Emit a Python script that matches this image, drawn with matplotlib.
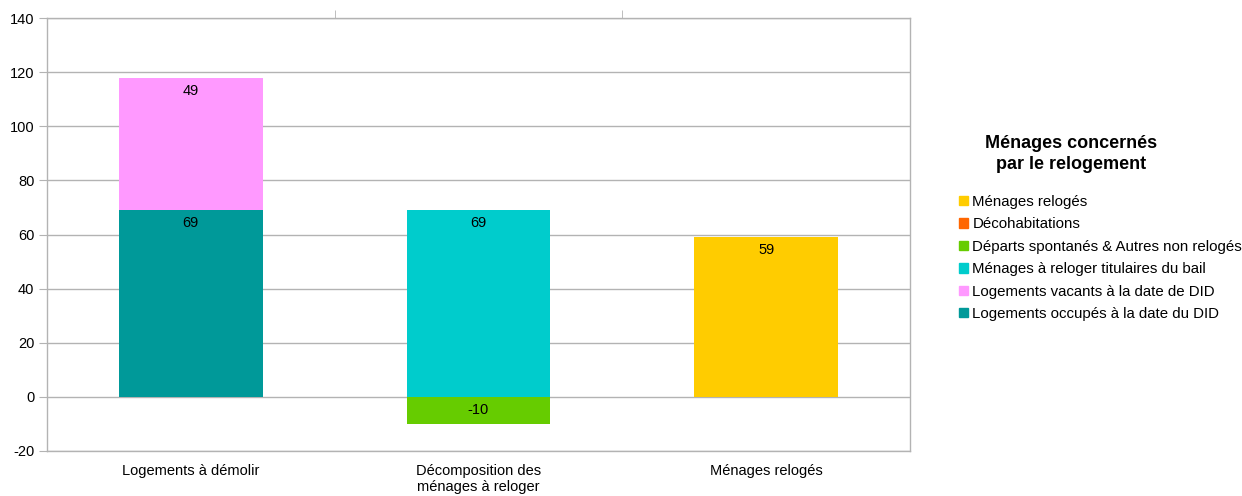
import matplotlib
matplotlib.use("Agg")
import matplotlib.pyplot as plt
from matplotlib.patches import Patch
import numpy as np

plt.rcParams['font.family'] = ['Liberation Sans', 'DejaVu Sans']
plt.rcParams['axes.unicode_minus'] = False

categories = ["Logements à démolir", "Décomposition des\nménages à reloger", "Ménages relogés"]

# series values per category (stacking order bottom -> top)
occupes = [69, 0, 0]
vacants = [49, 0, 0]
titulaires = [0, 69, 0]
departs = [0, -10, 0]
decohab = [0, 0, 0]
reloges = [0, 0, 59]

series_names = ["Logements occupés à la date du DID",
                "Logements vacants à la date de DID",
                "Ménages à reloger titulaires du bail",
                "Départs spontanés & Autres non relogés",
                "Décohabitations",
                "Ménages relogés"]
series_vals = [occupes, vacants, titulaires, departs, decohab, reloges]
series_colors = ["#009999", "#ff99ff", "#00cccc", "#66cc00", "#ff6600", "#ffcc00"]

yticks = [-20, 0, 20, 40, 60, 80, 100, 120, 140]

fig = plt.figure(figsize=(12.42, 4.96), dpi=100)
ax = fig.add_axes([47/1242, 45/496, (910-47)/1242, (451-18)/496])

x = np.arange(len(categories))
pos_base = np.zeros(len(categories))
neg_base = np.zeros(len(categories))
grid_c = "#b3b3b3"

ax.set_ylim(-20, 140)
ax.set_xlim(-0.5, 2.5)
ax.set_yticks(yticks)
ax.yaxis.grid(True, color=grid_c, linewidth=1)
ax.set_axisbelow(True)

for name, vals, col in zip(series_names, series_vals, series_colors):
    vals = np.array(vals, dtype=float)
    bottoms = np.where(vals >= 0, pos_base, neg_base)
    ax.bar(x, vals, width=0.5, bottom=bottoms, color=col, zorder=2)
    for xi, v, b in zip(x, vals, bottoms):
        if v != 0:
            upper = max(b, b + v)
            ax.annotate(f"{int(v)}", (xi, upper), xytext=(0, -13), textcoords="offset pixels",
                        ha="center", va="center", fontsize=10.5, color="#000000", zorder=3)
    pos_base = pos_base + np.where(vals > 0, vals, 0)
    neg_base = neg_base + np.where(vals < 0, vals, 0)

ax.set_xticks(x)
ax.set_xticklabels(categories, fontsize=10.5)
ax.tick_params(axis="x", length=0, pad=9)
ax.set_xticks([0.5, 1.5], minor=True)
ax.tick_params(axis="x", which="minor", top=True, bottom=False, direction="out", length=6, color=grid_c)
ax.tick_params(axis="y", length=6, color=grid_c, labelsize=10.5, pad=3)
for s in ax.spines.values():
    s.set_color(grid_c)
    s.set_linewidth(1)

handles = [Patch(facecolor=c, edgecolor=c) for c in series_colors][::-1]
labels = series_names[::-1]
fig.text(1071/1242, 1 - 154/496, "Ménages concernés\npar le relogement", ha="center", va="center",
         fontsize=13, fontweight="bold", multialignment="center", linespacing=1.25)
fig.legend(handles, labels, loc="upper left", bbox_to_anchor=(959/1242, 1 - 195/496), frameon=False,
           fontsize=10.8, handlelength=0.6, handleheight=0.6, handletextpad=0.3, labelspacing=0.56,
           borderaxespad=0, borderpad=0)

fig.savefig("out.png", dpi=100)
